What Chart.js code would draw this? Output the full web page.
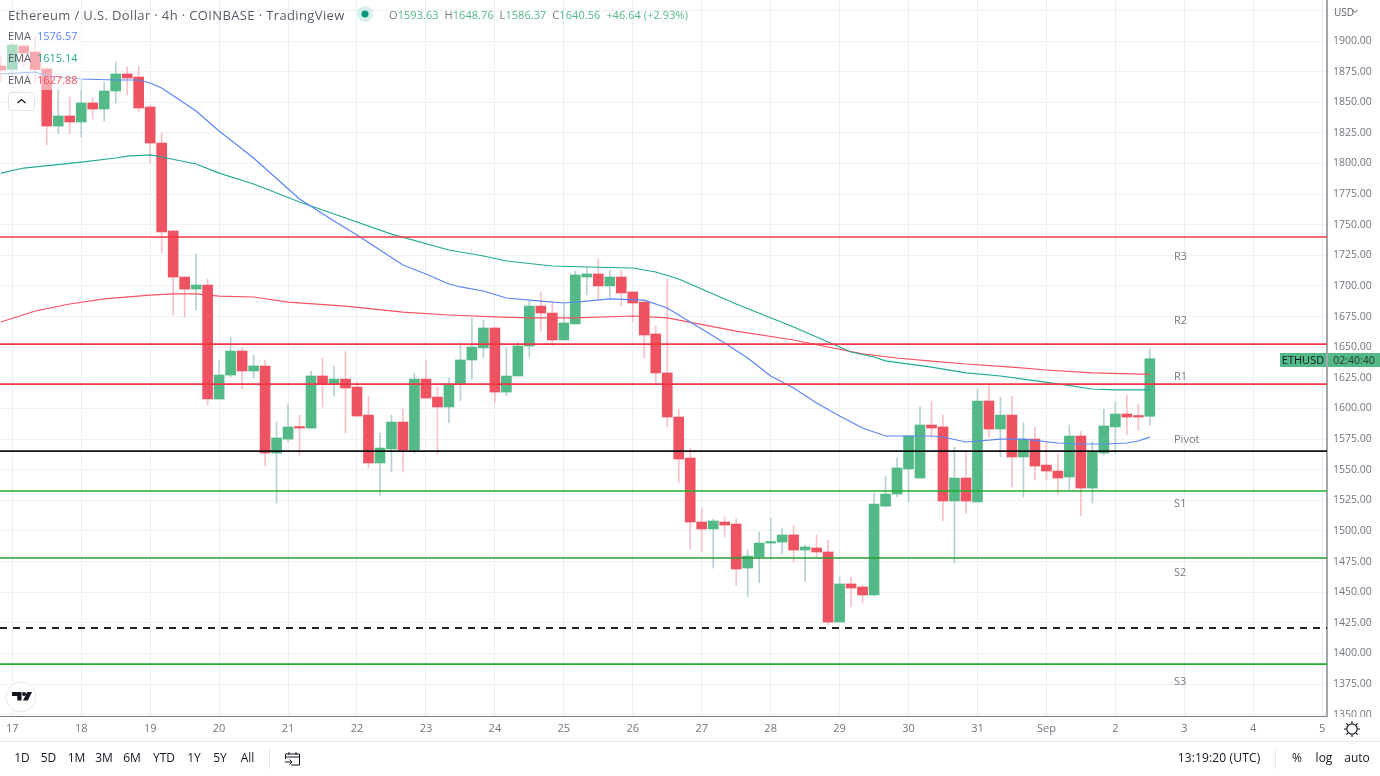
<!DOCTYPE html>
<html>
<head>
<meta charset="utf-8">
<script src="https://cdn.jsdelivr.net/npm/chart.js@4"></script>
<style>
html,body{margin:0;padding:0;background:#fff;width:1380px;height:776px;overflow:hidden}
body{font-family:"Open Sans",sans-serif;position:relative}
canvas{position:absolute;left:0;top:0}
.t{position:absolute;white-space:nowrap;line-height:14px}
.g{color:#53b987}.k{color:#787b86}
.pv{position:absolute;left:1174px;font-size:11px;line-height:12px;color:#787b86;margin-top:-6px}
.tb{position:absolute;top:751px;font-size:12px;line-height:14px;color:#131722;transform:translateX(-50%)}
</style>
</head>
<body>
<canvas id="c" width="1380" height="776"></canvas>

<div class="t" style="left:0;top:25px;width:82px;height:65px;background:rgba(255,255,255,.5)"></div>
<div class="t" style="left:8px;top:8px;font-size:13px;letter-spacing:.37px;color:#555b66">Ethereum / U.S. Dollar · 4h · COINBASE · TradingView</div>
<svg style="position:absolute;left:355px;top:4px" width="20" height="20"><circle cx="10" cy="10" r="8" fill="#089981" fill-opacity=".15"/><circle cx="10" cy="10" r="3.5" fill="#089981"/></svg>
<div class="t" style="left:389px;top:8px;font-size:11px;letter-spacing:.06px"><span class="k">O</span><span class="g">1593.63</span>&nbsp; <span class="k">H</span><span class="g">1648.76</span>&nbsp; <span class="k">L</span><span class="g">1586.37</span>&nbsp; <span class="k">C</span><span class="g">1640.56</span>&nbsp; <span class="g">+46.64 (+2.93%)</span></div>
<div class="t" style="left:8px;top:29px;font-size:11px;color:#555b66">EMA</div><div class="t" style="left:37px;top:29px;font-size:11px;color:#5d86ff">1576.57</div>
<div class="t" style="left:8px;top:51px;font-size:11px;color:#555b66">EMA</div><div class="t" style="left:37px;top:51px;font-size:11px;color:#22ab94">1615.14</div>
<div class="t" style="left:8px;top:73px;font-size:11px;color:#555b66">EMA</div><div class="t" style="left:37px;top:73px;font-size:11px;color:#f7525f">1627.88</div>
<svg style="position:absolute;left:8px;top:92px" width="27" height="19"><rect x=".5" y=".5" width="26" height="18" rx="3" fill="#fff" stroke="#dfe2e8"/><path d="M9.5 11 L13.5 7.5 L17.5 11" fill="none" stroke="#131722" stroke-width="1.3"/></svg>
<svg style="position:absolute;left:5px;top:681px" width="32" height="32"><circle cx="16" cy="16" r="15" fill="#fff" stroke="#e4e7ee"/><path d="M7 11h9.5v8.5h-4.2v-4.6H7z" fill="#131722"/><circle cx="19" cy="13" r="2" fill="#131722"/><path d="M22.2 11h4.8l-4.2 8.6h-4.8z" fill="#131722"/></svg>

<div class="pv" style="top:256px">R3</div>
<div class="pv" style="top:320px">R2</div>
<div class="pv" style="top:376px">R1</div>
<div class="pv" style="top:439px">Pivot</div>
<div class="pv" style="top:503px">S1</div>
<div class="pv" style="top:572px">S2</div>
<div class="pv" style="top:681px">S3</div>

<div class="t" style="left:1334px;top:5px;font-size:10px;color:#555b66">USD</div>
<svg style="position:absolute;left:1352px;top:9px" width="6" height="5"><path d="M.5 1 L3 3.5 L5.5 1" fill="none" stroke="#555b66"/></svg>
<div class="t" style="left:1280px;top:353px;width:46px;height:14px;background:#53b987;color:#131722;font-size:11px;text-align:center">ETHUSD</div>
<div class="t" style="left:1328px;top:353px;width:52px;height:14px;background:#53b987;color:#2a3a36;font-size:10.5px;text-align:center">02:40:40</div>

<div style="position:absolute;left:1328px;top:717px;width:52px;height:24px;background:#fff"></div>
<svg style="position:absolute;left:1343px;top:720px" width="18" height="18"><circle cx="9" cy="9" r="5.2" fill="none" stroke="#131722" stroke-width="1.2"/><path d="M9 1v2.5M9 14.5V17M1 9h2.5M14.5 9H17M3.3 3.3l1.8 1.8M12.9 12.9l1.8 1.8M3.3 14.7l1.8-1.8M12.9 5.1l1.8-1.8" stroke="#131722" stroke-width="1.1"/></svg>

<div style="position:absolute;left:0;top:741px;width:1380px;height:1px;background:#e6e9ef"></div>
<div style="position:absolute;left:269px;top:749px;width:1px;height:20px;background:#e6e9ef"></div>
<div style="position:absolute;left:1275px;top:749px;width:1px;height:20px;background:#e6e9ef"></div>
<div class="tb" style="left:22px">1D</div>
<div class="tb" style="left:48.5px">5D</div>
<div class="tb" style="left:76.5px">1M</div>
<div class="tb" style="left:104px">3M</div>
<div class="tb" style="left:132px">6M</div>
<div class="tb" style="left:164px">YTD</div>
<div class="tb" style="left:194px">1Y</div>
<div class="tb" style="left:220px">5Y</div>
<div class="tb" style="left:247.5px">All</div>
<svg style="position:absolute;left:284px;top:750px" width="17" height="17"><path d="M1.5 9V4h14v11H7M1.5 7h14M5 2v3M12 2v3M1 12h7M5.5 9.5 8 12l-2.5 2.5" fill="none" stroke="#131722" stroke-width="1"/></svg>
<div class="tb" style="left:1219px;letter-spacing:.15px">13:19:20 (UTC)</div>
<div class="tb" style="left:1297px">%</div>
<div class="tb" style="left:1324px">log</div>
<div class="tb" style="left:1357px">auto</div>

<script>
// Candle position (0 = 17 Aug 00:00, 6 per day), one entry per 4h candle
const candleIndex=[-1,0,1,2,3,4,5,6,7,8,9,10,11,12,13,14,15,16,17,18,19,20,21,22,23,24,25,26,27,28,29,30,31,32,33,34,35,36,37,38,39,40,41,42,43,44,45,46,47,48,49,50,51,52,53,54,55,56,57,58,59,60,61,62,63,64,65,66,67,68,69,70,71,72,73,74,75,76,77,78,79,80,81,82,83,84,85,86,87,88,89,90,91,92,93,94,95,96,97,98,99];
const opens=[1879.6,1876.8,1895.9,1891.0,1877.2,1830.6,1838.8,1833.9,1849.4,1844.5,1859.2,1873.1,1870.6,1846.1,1816.7,1744.9,1707.3,1697.5,1700.8,1607.7,1627.3,1646.9,1630.6,1634.7,1563.6,1575.0,1584.9,1584.0,1626.5,1620.0,1624.0,1617.5,1594.6,1555.5,1566.9,1588.9,1566.1,1624.0,1609.3,1601.2,1620.0,1639.6,1649.4,1665.7,1613.4,1626.5,1651.0,1683.6,1677.9,1655.9,1669.0,1707.3,1709.8,1700.0,1707.3,1695.1,1686.9,1660.8,1629.0,1593.0,1559.5,1507.3,1501.6,1507.3,1505.6,1469.7,1478.7,1490.1,1490.9,1496.7,1484.4,1486.1,1482.8,1425.6,1456.7,1454.2,1447.7,1520.3,1530.1,1550.6,1543.2,1586.5,1584.9,1524.4,1543.2,1523.6,1606.1,1583.2,1594.6,1560.4,1575.0,1553.8,1548.9,1544.0,1577.5,1535.0,1563.6,1584.9,1595.5,1593.8,1593.63];
const highs=[1887.0,1898.4,1896.8,1903.3,1878.8,1860.8,1854.3,1868.2,1853.5,1866.5,1882.9,1878.8,1879.6,1847.8,1824.9,1745.7,1707.3,1726.1,1705.7,1638.8,1658.3,1649.4,1643.6,1639.6,1588.9,1603.6,1594.6,1630.6,1641.2,1634.7,1646.9,1621.6,1610.2,1580.0,1594.6,1599.5,1628.9,1638.8,1617.5,1624.9,1654.3,1673.8,1672.2,1666.5,1649.4,1654.3,1687.7,1695.1,1686.9,1685.3,1712.2,1715.5,1722.0,1713.0,1713.0,1695.1,1687.7,1667.3,1705.7,1599.5,1567.7,1518.7,1509.7,1511.4,1509.7,1484.4,1499.1,1510.5,1502.4,1504.0,1488.5,1496.7,1492.6,1462.4,1462.4,1455.8,1531.0,1544.8,1559.5,1578.3,1601.2,1606.1,1594.6,1568.5,1565.3,1615.9,1620.0,1609.3,1610.2,1588.1,1584.9,1572.6,1562.8,1586.5,1581.6,1572.6,1599.5,1605.3,1611.0,1603.6,1648.76];
const lows=[1866.5,1872.3,1878.8,1865.7,1815.1,1824.1,1824.1,1821.6,1836.3,1834.7,1849.4,1855.9,1842.1,1800.4,1727.0,1676.3,1674.7,1680.4,1602.8,1607.7,1625.7,1615.9,1624.9,1553.0,1522.8,1572.6,1562.0,1584.0,1601.2,1610.2,1580.0,1593.8,1551.4,1529.3,1548.1,1548.1,1563.6,1608.5,1562.8,1588.1,1606.1,1624.0,1641.2,1604.5,1610.2,1626.5,1642.0,1663.2,1651.0,1655.9,1669.0,1692.6,1688.5,1690.2,1683.6,1670.6,1641.2,1620.8,1584.9,1539.1,1485.2,1482.8,1469.7,1495.0,1455.8,1446.0,1457.5,1477.1,1481.2,1474.6,1459.1,1478.7,1423.2,1425.6,1437.9,1441.1,1446.9,1519.5,1527.7,1523.6,1543.2,1575.9,1508.1,1473.8,1514.6,1523.6,1576.7,1560.4,1535.9,1527.7,1541.6,1541.6,1530.1,1533.4,1512.2,1522.8,1562.0,1563.6,1578.3,1582.4,1586.37];
const closes=[1876.3,1896.8,1890.2,1876.8,1830.6,1838.8,1833.9,1849.4,1844.5,1859.2,1873.1,1869.8,1845.3,1816.7,1744.1,1707.3,1697.5,1700.8,1607.7,1627.3,1646.9,1630.6,1634.7,1563.6,1575.9,1584.9,1584.0,1626.5,1620.0,1624.0,1616.7,1593.8,1555.5,1567.7,1588.9,1566.1,1624.0,1608.5,1601.2,1620.0,1639.6,1650.2,1665.7,1613.4,1626.5,1651.0,1683.6,1677.9,1655.9,1669.8,1709.0,1709.8,1700.0,1707.3,1694.3,1686.1,1660.0,1629.0,1593.0,1558.7,1507.3,1501.6,1508.1,1504.8,1468.9,1479.5,1490.1,1490.9,1496.7,1484.4,1486.9,1482.8,1425.6,1456.7,1453.4,1447.7,1522.0,1530.1,1551.4,1577.5,1586.5,1584.0,1524.4,1543.2,1524.4,1606.1,1583.2,1594.6,1560.4,1575.0,1553.0,1548.9,1543.2,1577.5,1535.0,1564.4,1585.7,1595.5,1593.0,1593.0,1640.56];

// EMA readings: candle position and value
const emaBlueIdx=[-1,2,3,6,9,11,12,13,16,18,21,25,28,30,32,34,36,38,39,41,43,46,48,50,52,55,57,59,62,64,66,68,70,72,74,76,80,81,83,86,88,91,93,95,97,98,99];
const emaBlue=[1873.1,1874.7,1871.4,1869,1868.2,1868.2,1865.7,1861.7,1842.9,1826.5,1804.5,1771,1753,1741.6,1729.4,1717.1,1709.8,1701.6,1699.2,1695.9,1690.2,1687.7,1686.1,1687.7,1689.4,1688.5,1682,1670.6,1653.4,1641.2,1626.5,1616.7,1604.5,1593.8,1584,1577.5,1577.5,1576.7,1572.6,1575,1575,1571.8,1571,1571,1571.8,1573.4,1576.57];
const emaTealIdx=[-1,1,6,9,10,12,13,16,18,21,25,29,33,38,41,43,47,50,54,56,58,63,68,70,73,75,76,80,83,86,88,91,94,96,99];
const emaTeal=[1792.2,1796.3,1801.2,1804.5,1806.1,1807,1805.3,1799.6,1792.2,1783.3,1768.6,1755.5,1742.4,1729.4,1724.5,1720.4,1716.3,1715.5,1714.7,1711.4,1705.7,1685.3,1666.5,1658.3,1646.1,1642,1638.8,1633.8,1629,1626.5,1624,1620,1615.9,1615.1,1615.14];
const emaRedIdx=[-1,2,5,8,12,14,16,18,21,24,29,34,38,42,45,49,54,57,63,68,71,74,77,80,83,87,90,94,99];
const emaRed=[1670.6,1679.6,1685.3,1689.4,1692.6,1693.5,1693.5,1691.8,1691,1686.9,1683.6,1678.7,1676.3,1674.7,1673.9,1673.9,1675.5,1673.9,1663.2,1655.9,1650.2,1644.5,1641.2,1638.7,1636.3,1633.8,1631.4,1629,1627.88];

// Horizontal levels
const levelR3=1740, levelR2=1652.6, levelR1=1619.9, levelPivot=1565.2, levelS1=1532.6, levelS2=1477.9, levelDashed=1420.7, levelS3=1391.3;

// Axes
const dayTickPositions=[0,6,12,18,24,30,36,42,48,54,60,66,72,78,84,90,96,102,108,114];
const dayTickLabels=['17','18','19','20','21','22','23','24','25','26','27','28','29','30','31','Sep','2','3','4','5'];
const priceTicks=[1925,1900,1875,1850,1825,1800,1775,1750,1725,1700,1675,1650,1625,1600,1575,1550,1525,1500,1475,1450,1425,1400,1375,1350];
const xMin=-1.07, xMax=114.42, yMin=1348.9, yMax=1933.5;

const UP='#53b987', DOWN='#ef5261', UPW='#b5d1d3', DOWNW='#f9c0c7';
const isUp=k=>closes[k]>=opens[k];
const level=(v,color,w,dash)=>({type:'line',data:[{x:xMin,y:v},{x:xMax,y:v}],borderColor:color,borderWidth:w,borderDash:dash||[],pointRadius:0,order:1});
const ema=(idx,vals,color)=>({type:'line',data:idx.map((x,k)=>({x,y:vals[k]})),borderColor:color,borderWidth:1.2,pointRadius:0,tension:0,order:2});

new Chart(document.getElementById('c'),{
  type:'bar',
  data:{datasets:[
    {data:candleIndex.map((x,k)=>({x,y:[lows[k],highs[k]]})),backgroundColor:candleIndex.map((x,k)=>isUp(k)?UPW:DOWNW),barThickness:1,grouped:false,order:4},
    {data:candleIndex.map((x,k)=>({x,y:[opens[k],closes[k]]})),backgroundColor:candleIndex.map((x,k)=>isUp(k)?UP:DOWN),barThickness:10,minBarLength:1.5,grouped:false,order:3},
    ema(emaBlueIdx,emaBlue,'#5b85f5'),
    ema(emaTealIdx,emaTeal,'#22ab94'),
    ema(emaRedIdx,emaRed,'#f7525f'),
    level(levelR3,'#f23645',1.7),
    level(levelR2,'#f23645',1.7),
    level(levelR1,'#f23645',1.7),
    level(levelPivot,'#111111',1.7),
    level(levelS1,'#1fae2c',1.7),
    level(levelS2,'#2a9d34',1.3),
    level(levelDashed,'#222222',2,[7,6]),
    level(levelS3,'#1fae2c',1.7)
  ]},
  options:{
    responsive:false,animation:false,devicePixelRatio:1,
    layout:{padding:{left:0,right:0,top:0,bottom:35}},
    plugins:{legend:{display:false},tooltip:{enabled:false}},
    scales:{
      x:{type:'linear',offset:false,min:xMin,max:xMax,
        afterBuildTicks:s=>{s.ticks=dayTickPositions.map(value=>({value}));},
        afterFit:s=>{s.height=25;s.paddingLeft=0;s.paddingRight=0;},
        grid:{offset:false,color:'#e9f0f4',drawTicks:false},
        border:{color:'#787b86',width:1},
        ticks:{autoSkip:false,maxRotation:0,padding:6,color:'#6f7680',font:{family:'"Open Sans"',size:11},
          callback:v=>dayTickLabels[dayTickPositions.indexOf(v)]}},
      y:{type:'linear',position:'right',min:yMin,max:yMax,
        afterBuildTicks:s=>{s.ticks=priceTicks.map(value=>({value}));},
        afterFit:s=>{s.width=53;s.paddingTop=0;s.paddingBottom=0;},
        grid:{color:'#eef2f5',drawTicks:false},
        border:{color:'#a3a6ab',width:2},
        ticks:{autoSkip:false,padding:6,color:'#6f7680',font:{family:'"Open Sans"',size:10.5},
          callback:v=>v===1925?'':v.toFixed(2)}}
    }
  }
});
</script>
</body>
</html>
